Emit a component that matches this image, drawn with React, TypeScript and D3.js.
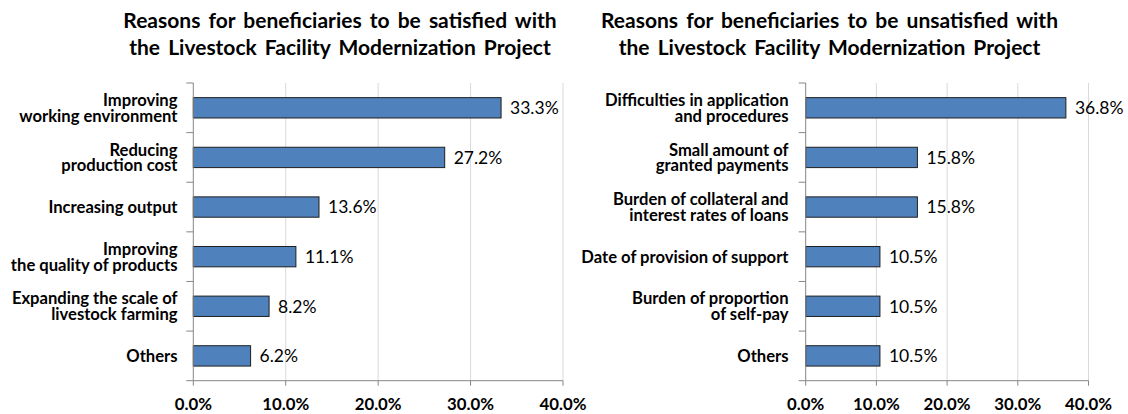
import * as d3 from 'd3';

const satisfiedTitle = ['Reasons for beneficiaries to be satisfied with', 'the Livestock Facility Modernization Project'];
const satisfiedCategories = [
  'Improving\nworking environment',
  'Reducing\nproduction cost',
  'Increasing output',
  'Improving\nthe quality of products',
  'Expanding the scale of\nlivestock farming',
  'Others',
];
const satisfiedValues = [33.3, 27.2, 13.6, 11.1, 8.2, 6.2];

const unsatisfiedTitle = ['Reasons for beneficiaries to be unsatisfied with', 'the Livestock Facility Modernization Project'];
const unsatisfiedCategories = [
  'Difficulties in application\nand procedures',
  'Small amount of\ngranted payments',
  'Burden of collateral and\ninterest rates of loans',
  'Date of provision of support',
  'Burden of proportion\nof self-pay',
  'Others',
];
const unsatisfiedValues = [36.8, 15.8, 15.8, 10.5, 10.5, 10.5];

const xTicks = [0, 10, 20, 30, 40];

const FONT = 'Lato, "Open Sans", sans-serif';
const fmt = d3.format('.1f');

type PanelProps = {
  title: string[];
  categories: string[];
  values: number[];
  x0: number;
  x1: number;
  labelX: number;
  titleX: number;
};

function Panel({ title, categories, values, x0, x1, labelX, titleX }: PanelProps) {
  const top = 83;
  const bottom = 380.7;
  const x = d3.scaleLinear().domain([0, 40]).range([x0, x1]);
  const y = d3.scaleBand<string>().domain(categories).range([top, bottom]).paddingInner(0.59).paddingOuter(0.295);
  const step = y.step();
  const bounds = d3.range(categories.length + 1).map(i => top + i * step);

  return (
    <g>
      {title.map((t, i) => (
        <text key={i} x={titleX} y={28 + i * 27} textAnchor="middle" fontSize={21} fontWeight="bold" wordSpacing={3} fill="#000" fontFamily={FONT}>
          {t}
        </text>
      ))}
      {/* gridlines */}
      {xTicks.slice(1).map(t => (
        <line key={t} x1={x(t)} x2={x(t)} y1={top} y2={bottom} stroke="#d9d9d9" strokeWidth={1} />
      ))}
      {/* bars */}
      {categories.map((c, i) => (
        <rect key={c} x={x(0)} y={y(c)} width={x(values[i]) - x(0)} height={y.bandwidth()} fill="#4f81bd" stroke="#1f1f1f" strokeWidth={1} />
      ))}
      {/* value labels */}
      {categories.map((c, i) => (
        <text key={c} x={x(values[i]) + 9} y={(y(c) ?? 0) + y.bandwidth() / 2} dy="0.36em" fontSize={17.5} fill="#000" fontFamily={FONT}>
          {fmt(values[i])}%
        </text>
      ))}
      {/* y axis */}
      <line x1={x0} x2={x0} y1={top} y2={bottom} stroke="#868686" />
      {bounds.map((b, i) => (
        <line key={i} x1={x0 - 7} x2={x0} y1={b} y2={b} stroke="#868686" />
      ))}
      {/* x axis */}
      <line x1={x0} x2={x1} y1={bottom} y2={bottom} stroke="#868686" />
      {xTicks.map(t => (
        <g key={t}>
          <line x1={x(t)} x2={x(t)} y1={bottom} y2={bottom + 5} stroke="#868686" />
          <text x={x(t)} y={410} textAnchor="middle" fontSize={16.8} fontWeight="bold" fill="#000" fontFamily={FONT}>
            {fmt(t)}%
          </text>
        </g>
      ))}
      {/* category labels */}
      {categories.map(c => {
        const lines = c.split('\n');
        const cy = (y(c) ?? 0) + y.bandwidth() / 2;
        const lh = 15.8;
        return (
          <text key={c} textAnchor="end" fontSize={16.6} fontWeight="bold" fill="#000" fontFamily={FONT}>
            {lines.map((l, i) => (
              <tspan key={i} x={labelX} y={cy + (i - (lines.length - 1) / 2) * lh} dy="0.36em">
                {l}
              </tspan>
            ))}
          </text>
        );
      })}
    </g>
  );
}

export default function App() {
  return (
    <div style={{ position: 'fixed', left: 0, top: 0 }}>
      <svg width={1128} height={414} style={{ display: 'block', background: '#fff' }}>
        <Panel title={satisfiedTitle} categories={satisfiedCategories} values={satisfiedValues} x0={193.3} x1={563} labelX={177.5} titleX={340} />
        <Panel title={unsatisfiedTitle} categories={unsatisfiedCategories} values={unsatisfiedValues} x0={805.7} x1={1088.5} labelX={788.5} titleX={829.5} />
      </svg>
    </div>
  );
}
